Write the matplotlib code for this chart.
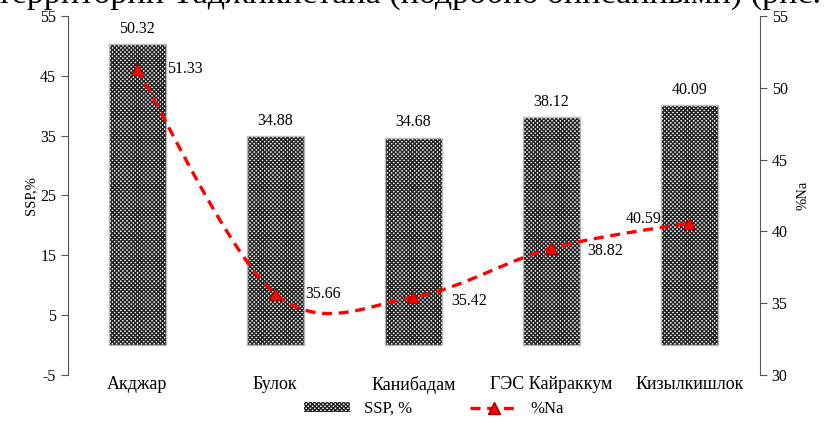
import numpy as np
import matplotlib
matplotlib.use('Agg')
import matplotlib.pyplot as plt
from matplotlib.lines import Line2D
from matplotlib.patches import Patch

plt.rcParams['font.family'] = ['Liberation Serif', 'DejaVu Serif']
plt.rcParams['hatch.linewidth'] = 1.0
plt.rcParams['axes.unicode_minus'] = False

sites = ['Акджар', 'Булок', 'Канибадам', 'ГЭС Кайраккум', 'Кизылкишлок']
ssp = [50.32, 34.88, 34.68, 38.12, 40.09]
na = [51.33, 35.66, 35.42, 38.82, 40.59]
ssp_ticks = [-5, 5, 15, 25, 35, 45, 55]
na_ticks = [30, 35, 40, 45, 50, 55]

def smoothCurve(x, y, steps=30):
    # excel-style smoothed line: cubic bezier through points, catmull-rom handles
    x, y = np.asarray(x, float), np.asarray(y, float)
    px = np.concatenate(([x[0]], x, [x[-1]]))
    py = np.concatenate(([y[0]], y, [y[-1]]))
    t = np.linspace(0, 1, steps)
    xs, ys = [], []
    for i in range(1, len(px) - 2):
        p0, p3 = np.array([px[i], py[i]]), np.array([px[i+1], py[i+1]])
        c1 = p0 + (np.array([px[i+1], py[i+1]]) - np.array([px[i-1], py[i-1]])) / 6.0
        c2 = p3 - (np.array([px[i+2], py[i+2]]) - np.array([px[i], py[i]])) / 6.0
        b = ((1-t)**3)[:, None]*p0 + (3*(1-t)**2*t)[:, None]*c1 + (3*(1-t)*t**2)[:, None]*c2 + (t**3)[:, None]*p3
        xs.extend(b[:, 0]); ys.extend(b[:, 1])
    return xs, ys

fig = plt.figure(figsize=(8.26, 4.23), dpi=100)
ax = fig.add_axes([0.0823, 0.1135, 0.8377, 0.8487])
ax2 = ax.twinx()

pos = np.arange(len(sites))
hatch = 'xxxxxxxx'
ax.bar(pos, ssp, width=0.413, color='white', edgecolor='#222222', hatch=hatch, linewidth=0, zorder=2)
ax.bar(pos, ssp, width=0.413, fill=False, edgecolor='#b8b8b8', linewidth=1.0, zorder=3)
for p, v in zip(pos, ssp):
    ax.text(p, v + 1.2, '%.2f' % v, ha='center', va='bottom', fontsize=11.5)

ax.set_xlim(-0.5, 4.51)
ax.set_ylim(-5, 55)
ax.set_yticks(ssp_ticks)
ax.set_xticks(pos)
ax.set_xticklabels(sites, fontsize=13)
ax.tick_params(axis='x', length=0, pad=1)
ax.tick_params(axis='y', labelsize=11.5, length=5, direction='out', color='#555555')
ax.set_ylabel('SSP,%', fontsize=10.5, labelpad=2)
for s in ['top', 'bottom', 'right']:
    ax.spines[s].set_visible(False)
ax.spines['left'].set_color('#555555')

sx, sy = smoothCurve(pos, na)
ax2.plot(sx, sy, color='#ff0000', linestyle=(0, (3, 2)), linewidth=2.4, zorder=4)
ax2.plot(pos, na, linestyle='none', marker='^', markersize=9, markerfacecolor='#ff0000',
         markeredgecolor='#8b0000', markeredgewidth=0.6, zorder=5)
offsets = [(30, 0, 'left'), (30, 0, 'left'), (38, -4, 'left'), (36, -3, 'left'), (-28, 4, 'right')]
for p, v, (dx, dy, ha) in zip(pos, na, offsets):
    ax2.annotate('%.2f' % v, (p, v), xytext=(dx, dy), textcoords='offset pixels',
                 ha=ha, va='center', fontsize=11.5)
ax2.set_ylim(30, 55)
ax2.set_yticks(na_ticks)
ax2.tick_params(axis='y', labelsize=11.5, length=5, direction='out', color='#555555')
ax2.set_ylabel('%Na', fontsize=10.5, labelpad=6)
for s in ['top', 'bottom', 'left']:
    ax2.spines[s].set_visible(False)
ax2.spines['right'].set_color('#555555')

handles = [Patch(facecolor='white', edgecolor='#222222', hatch=hatch, linewidth=0),
           Line2D([0], [0], color='#ff0000', linestyle=(0, (3, 2)), linewidth=2.4, marker='^',
                  markersize=8, markerfacecolor='#ff0000', markeredgecolor='#8b0000')]
fig.legend(handles, ['SSP, %', '%Na'], loc='center', bbox_to_anchor=(0.525, 0.033), ncol=2,
           frameon=False, fontsize=12, columnspacing=3.5, handlelength=2.8, handleheight=0.5)

# tail of the body text line above the figure, cut by the crop
fig.text(-0.004, 1 - 3/423, 'территории Таджикистана (подробно описанными) (рис.',
         ha='left', va='baseline', fontsize=24.5)

fig.savefig('out.png', dpi=100)
